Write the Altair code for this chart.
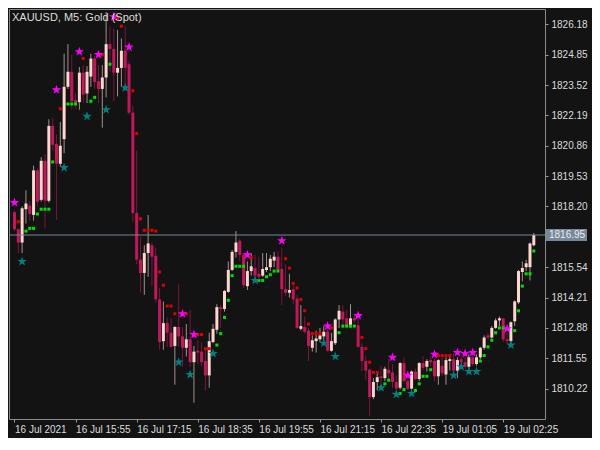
import altair as alt
import pandas as pd

title_text = "XAUUSD, M5:  Gold (Spot)"
time_labels = ["16 Jul 2021", "16 Jul 15:55", "16 Jul 17:15", "16 Jul 18:35", "16 Jul 19:55",
               "16 Jul 21:15", "16 Jul 22:35", "19 Jul 01:05", "19 Jul 02:25"]
price_ticks = [1826.18, 1824.85, 1823.52, 1822.19, 1820.86, 1819.53, 1818.20,
               1815.54, 1814.21, 1812.88, 1811.55, 1810.22]
bid_price = [1816.95]

opens = [
    1817.95, 1817.20, 1816.62, 1818.08, 1818.24, 1817.83, 1819.78, 1818.49, 1820.20, 1818.45,
    1821.73, 1820.94, 1820.07, 1821.15, 1823.44, 1824.10, 1822.86, 1822.77, 1824.06, 1823.15,
    1823.89, 1824.68, 1823.69, 1823.35, 1823.85, 1825.31, 1825.10, 1824.06, 1824.27, 1825.02,
    1824.43, 1822.31, 1817.91, 1815.87, 1815.29, 1816.16, 1816.50, 1816.04, 1814.13, 1812.30,
    1813.09, 1812.67, 1812.09, 1812.92, 1812.51, 1812.01, 1812.38, 1811.38, 1811.88, 1811.84,
    1811.43, 1810.80, 1812.26, 1812.80, 1813.79, 1813.71, 1814.46, 1815.42, 1816.21, 1816.70,
    1816.08, 1814.71, 1815.37, 1815.50, 1815.25, 1815.17, 1815.42, 1815.54, 1815.83, 1816.00,
    1815.46, 1814.58, 1814.42, 1814.58, 1814.17, 1812.84, 1812.92, 1812.76, 1812.01, 1812.30,
    1812.38, 1812.51, 1812.71, 1811.88, 1812.21, 1813.25, 1813.59, 1813.30, 1813.00, 1813.30,
    1813.00, 1812.05, 1811.43, 1811.05, 1809.85, 1810.51, 1810.76, 1810.68, 1811.05, 1810.93,
    1810.51, 1810.26, 1811.34, 1810.55, 1810.22, 1810.97, 1810.64, 1811.34, 1811.18, 1811.47,
    1811.43, 1810.76, 1811.22, 1810.84, 1811.43, 1811.51, 1811.01, 1811.51, 1811.38, 1811.18,
    1811.59, 1811.30, 1811.59, 1812.01, 1812.55, 1812.46, 1812.88, 1813.21, 1813.30, 1812.38,
    1812.30, 1813.17, 1814.00, 1815.33, 1815.54, 1815.54, 1816.50]
closes = [
    1817.20, 1816.62, 1818.12, 1818.33, 1817.87, 1819.78, 1818.41, 1820.20, 1818.45, 1821.73,
    1820.90, 1820.07, 1820.86, 1823.44, 1824.10, 1822.81, 1822.73, 1824.06, 1823.10, 1824.10,
    1824.68, 1823.65, 1823.35, 1823.85, 1825.31, 1825.10, 1824.06, 1824.27, 1825.02, 1824.27,
    1822.31, 1817.91, 1815.87, 1815.29, 1816.16, 1816.58, 1816.00, 1814.13, 1812.26, 1813.09,
    1812.67, 1812.05, 1812.92, 1812.51, 1812.01, 1812.38, 1811.38, 1811.84, 1811.80, 1811.38,
    1810.80, 1812.30, 1812.84, 1813.79, 1813.71, 1814.50, 1815.42, 1816.21, 1816.62, 1816.08,
    1814.75, 1815.37, 1815.58, 1815.17, 1815.12, 1815.46, 1815.54, 1815.91, 1816.00, 1815.42,
    1814.58, 1814.42, 1814.54, 1814.13, 1812.88, 1812.96, 1812.71, 1812.09, 1812.34, 1812.42,
    1812.55, 1812.71, 1811.88, 1812.30, 1813.25, 1813.63, 1813.25, 1812.96, 1813.30, 1813.21,
    1812.05, 1811.43, 1811.01, 1809.85, 1810.51, 1810.72, 1810.68, 1811.09, 1810.89, 1810.51,
    1810.22, 1811.34, 1810.55, 1810.22, 1810.97, 1810.64, 1811.34, 1811.13, 1811.43, 1811.38,
    1810.76, 1811.47, 1810.89, 1811.47, 1811.51, 1811.01, 1811.47, 1811.38, 1811.18, 1811.59,
    1811.30, 1811.59, 1812.01, 1812.46, 1812.46, 1812.88, 1813.21, 1813.30, 1812.38, 1812.30,
    1813.13, 1814.04, 1815.37, 1815.50, 1815.71, 1816.58, 1816.95]
highs = [
    1818.03, 1817.24, 1818.20, 1818.91, 1818.41, 1819.99, 1819.86, 1820.36, 1820.49, 1822.02,
    1822.07, 1821.36, 1821.90, 1824.89, 1825.31, 1824.85, 1823.15, 1824.31, 1824.39, 1824.35,
    1824.89, 1824.81, 1824.39, 1824.39, 1826.72, 1826.06, 1825.97, 1825.93, 1825.56, 1826.10,
    1824.56, 1822.61, 1820.65, 1816.87, 1816.50, 1817.83, 1816.62, 1816.41, 1814.63, 1814.04,
    1813.34, 1813.30, 1812.96, 1814.79, 1812.92, 1813.05, 1813.67, 1812.09, 1812.34, 1812.26,
    1812.05, 1812.67, 1813.05, 1813.92, 1813.88, 1814.54, 1815.79, 1816.29, 1817.12, 1816.79,
    1816.16, 1815.79, 1816.16, 1816.08, 1816.00, 1816.16, 1816.16, 1816.08, 1816.21, 1816.25,
    1816.41, 1815.66, 1815.25, 1814.75, 1814.33, 1813.88, 1813.38, 1812.88, 1812.55, 1812.76,
    1812.88, 1812.96, 1812.88, 1812.67, 1813.30, 1813.88, 1813.88, 1813.67, 1813.92, 1813.46,
    1813.30, 1812.21, 1811.63, 1811.09, 1810.68, 1810.89, 1811.22, 1811.18, 1811.51, 1811.30,
    1810.80, 1811.38, 1811.59, 1810.76, 1811.01, 1811.09, 1811.38, 1811.63, 1811.51, 1811.63,
    1811.51, 1811.51, 1811.59, 1811.59, 1811.63, 1811.76, 1811.59, 1811.63, 1811.59, 1811.72,
    1811.84, 1811.72, 1812.05, 1812.55, 1812.67, 1812.96, 1813.30, 1813.38, 1813.30, 1812.67,
    1813.17, 1814.09, 1815.42, 1815.79, 1815.87, 1816.62, 1817.04]
lows = [
    1817.12, 1816.16, 1816.16, 1817.45, 1817.58, 1817.58, 1818.20, 1818.41, 1817.24, 1818.37,
    1820.65, 1817.62, 1819.95, 1820.53, 1823.35, 1822.44, 1822.48, 1822.44, 1822.73, 1822.73,
    1823.44, 1823.35, 1822.73, 1821.65, 1822.98, 1824.10, 1822.81, 1823.02, 1823.44, 1823.27,
    1822.23, 1817.53, 1815.66, 1814.42, 1814.33, 1815.12, 1814.71, 1814.00, 1811.92, 1811.92,
    1812.05, 1812.01, 1810.39, 1812.05, 1811.18, 1811.63, 1811.18, 1809.60, 1811.30, 1811.22,
    1810.14, 1810.26, 1812.21, 1812.63, 1812.88, 1813.59, 1814.42, 1815.37, 1815.96, 1815.79,
    1814.63, 1814.54, 1815.17, 1815.04, 1815.04, 1815.12, 1815.33, 1815.37, 1815.54, 1815.33,
    1813.88, 1814.29, 1814.21, 1813.92, 1812.84, 1812.76, 1812.63, 1811.43, 1811.84, 1811.80,
    1812.26, 1812.34, 1811.84, 1811.84, 1812.13, 1812.88, 1812.88, 1812.88, 1812.88, 1813.09,
    1812.01, 1810.97, 1810.59, 1809.01, 1809.76, 1810.14, 1810.47, 1810.55, 1810.55, 1810.26,
    1810.18, 1810.18, 1810.47, 1810.14, 1810.18, 1810.59, 1810.55, 1811.01, 1810.97, 1811.22,
    1810.55, 1810.39, 1810.80, 1810.39, 1811.01, 1810.97, 1810.68, 1811.22, 1811.09, 1811.09,
    1811.22, 1811.22, 1811.51, 1811.92, 1812.34, 1812.42, 1812.84, 1812.96, 1812.26, 1812.21,
    1812.21, 1812.96, 1813.92, 1814.92, 1815.37, 1814.96, 1816.45]

magenta_k = [0, 11, 17, 22, 26, 30, 44, 47, 61, 70, 82, 90, 99, 103, 110, 116, 118, 120, 129]
magenta_p = [1818.37, 1823.31, 1824.98, 1824.85, 1826.51, 1825.18, 1813.50, 1812.59, 1816.08,
             1816.70, 1812.96, 1813.42, 1811.59, 1810.80, 1811.72, 1811.80, 1811.76, 1811.80, 1812.84]
teal_k = [2, 13, 19, 24, 29, 43, 46, 52, 63, 81, 84, 96, 100, 104, 115, 117, 119, 121, 130]
teal_p = [1815.79, 1819.90, 1822.15, 1822.44, 1823.40, 1811.38, 1810.84, 1811.76, 1814.96,
          1812.21, 1811.63, 1810.26, 1809.97, 1810.01, 1810.80, 1811.18, 1810.97, 1810.97, 1812.13]
red_k = [1, 12, 18, 23, 27, 28, 31, 32, 33, 34, 35, 36, 37, 38, 39, 40, 41, 42, 45, 48,
         49, 50, 51, 62, 71, 72, 73, 74, 75, 76, 77, 78, 79, 80, 83, 91, 92, 93, 94, 95,
         111, 112, 113, 114]
red_p = [1817.53, 1822.48, 1824.68, 1824.85, 1826.43, 1826.10, 1823.27, 1821.40, 1817.66, 1817.16,
         1817.16, 1817.16, 1817.12, 1815.33, 1814.75, 1813.84, 1813.84, 1813.50, 1813.50, 1812.59,
         1812.59, 1811.97, 1811.97, 1815.96, 1815.91, 1815.50, 1814.83, 1814.63, 1814.13, 1813.63,
         1813.05, 1812.63, 1812.63, 1812.63, 1812.88, 1812.46, 1811.97, 1811.38, 1810.93, 1810.93,
         1811.67, 1811.67, 1811.67, 1811.67]
green_k = [3, 4, 5, 6, 7, 8, 9, 10, 14, 15, 16, 20, 21, 25, 53, 54, 55, 56, 57, 58,
           59, 60, 64, 65, 66, 67, 68, 69, 85, 86, 87, 88, 89, 97, 98, 101, 102, 105, 106, 107,
           108, 109, 122, 123, 124, 125, 126, 127, 128, 131, 132, 133, 134, 135, 136]
green_p = [1817.12, 1817.24, 1817.24, 1817.87, 1818.08, 1818.08, 1818.08, 1820.15, 1822.69, 1822.69,
           1822.69, 1822.81, 1822.98, 1824.43, 1812.13, 1812.63, 1813.34, 1814.09, 1815.17, 1815.58,
           1815.58, 1815.58, 1814.96, 1814.96, 1815.12, 1815.21, 1815.37, 1815.37, 1812.67, 1812.96,
           1812.96, 1812.96, 1812.96, 1810.43, 1810.59, 1810.01, 1810.18, 1810.14, 1810.43, 1810.76,
           1810.76, 1811.05, 1811.43, 1811.67, 1812.05, 1812.34, 1812.67, 1812.88, 1812.88, 1812.76,
           1813.63, 1814.71, 1815.25, 1815.25, 1816.25]

# ---- tables
candles = pd.DataFrame({"k": list(range(len(opens))), "open": opens, "high": highs,
                        "low": lows, "close": closes})
stars_m = pd.DataFrame({"k": magenta_k, "p": magenta_p})
stars_t = pd.DataFrame({"k": teal_k, "p": teal_p})
dots_r = pd.DataFrame({"k": red_k, "p": red_p})
dots_g = pd.DataFrame({"k": green_k, "p": green_p})
bid_df = pd.DataFrame({"p": bid_price, "t": [f"{v:.2f}" for v in bid_price]})
title_df = pd.DataFrame({"t": [title_text]})

W, H = 536, 410
BG = "#131313"
FONT = "Liberation Sans"
xs = alt.Scale(domain=[-0.125, 137.625], nice=False, zero=False)
ys = alt.Scale(domain=[1808.89, 1826.85], nice=False, zero=False)

label_js = "[" + ",".join("'" + s + "'" for s in time_labels) + "]"
x_axis = alt.Axis(values=[16 * i for i in range(len(time_labels))],
                  labelExpr=label_js + "[round(datum.value/16)]",
                  labelAlign="left", labelBaseline="top", labelPadding=2,
                  tickSize=3, tickColor="#9a9a9a", labelColor="#dcdcdc",
                  labelFontSize=10, labelFont=FONT, domain=False, grid=False,
                  title=None, labelOverlap=False, labelFlush=False)
y_axis = alt.Axis(orient="right", values=price_ticks, format=".2f",
                  tickSize=3, tickColor="#9a9a9a", labelColor="#dcdcdc",
                  labelFontSize=10, labelFont=FONT, labelPadding=3,
                  domain=False, grid=False, title=None, labelOverlap=False)

X = alt.X("k:Q", scale=xs, axis=x_axis)


def Y(field):
    return alt.Y(field, scale=ys, axis=y_axis)


bull = "datum.close >= datum.open"
bear = "datum.close < datum.open"

wick_bull = alt.Chart(candles).transform_filter(bull).mark_rule(
    color="#a0908e", strokeWidth=1).encode(x=X, y=Y("low:Q"), y2="high:Q")
wick_bear = alt.Chart(candles).transform_filter(bear).mark_rule(
    color="#7a1640", strokeWidth=1).encode(x=X, y=Y("low:Q"), y2="high:Q")
body_bull = alt.Chart(candles).transform_filter(bull).mark_bar(
    width=3, color="#fcd6cf").encode(x=X, y=Y("open:Q"), y2="close:Q")
body_bear = alt.Chart(candles).transform_filter(bear).mark_bar(
    width=3, color="#c2185b").encode(x=X, y=Y("open:Q"), y2="close:Q")

bid_line = alt.Chart(bid_df).mark_rule(color="#778899", strokeWidth=1).encode(
    y=Y("p:Q"), x=alt.value(0), x2=alt.value(W))

STAR = ("M0,-1L0.225,-0.309L0.951,-0.309L0.363,0.118L0.588,0.809L0,0.382"
        "L-0.588,0.809L-0.363,0.118L-0.951,-0.309L-0.225,-0.309Z")


def markers(df, shape, color, size):
    return alt.Chart(df).mark_point(shape=shape, filled=True, color=color, size=size,
                                    opacity=1, strokeWidth=0).encode(x=X, y=Y("p:Q"))


red_layer = markers(dots_r, "square", "#e00000", 9)
green_layer = markers(dots_g, "square", "#00e000", 9)
mag_layer = markers(stars_m, STAR, "#ff00ff", 100)
teal_layer = markers(stars_t, STAR, "#008080", 100)

bid_box = alt.Chart(bid_df).mark_rect(color="#778899", yOffset=-6, y2Offset=6).encode(
    y=Y("p:Q"), y2="p:Q", x=alt.value(W + 1), x2=alt.value(W + 42))
bid_text = alt.Chart(bid_df).mark_text(align="left", baseline="middle", dx=3,
                                       font=FONT, fontSize=10, color="#e8ecf0").encode(
    y=Y("p:Q"), x=alt.value(W + 1), text="t:N")

title = alt.Chart(title_df).mark_text(align="left", baseline="middle", font=FONT,
                                      fontSize=11, color="#dcdcdc").encode(
    x=alt.value(3), y=alt.value(9), text="t:N")

chart = alt.layer(
    wick_bull, wick_bear, body_bull, body_bear, bid_line,
    red_layer, green_layer, mag_layer, teal_layer, bid_box, bid_text, title
).properties(
    width=W, height=H,
    autosize=alt.AutoSizeParams(type="none"),
    padding={"left": 1, "top": 1, "right": 47, "bottom": 19},
).configure(background=BG).configure_view(stroke="#8c8c8c", strokeWidth=1, fill=BG)

chart.save("out.html", embed_options={"renderer": "svg", "actions": False})
